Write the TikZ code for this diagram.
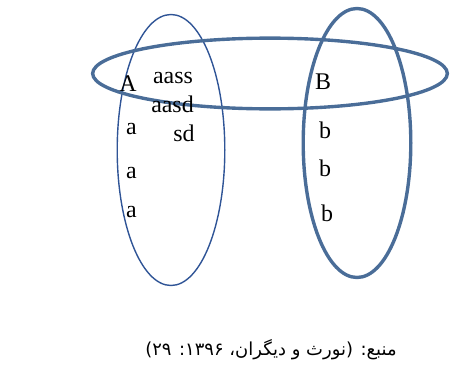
\documentclass[tikz,border=0pt]{standalone}
\usepackage{fontspec}
\setmainfont{Liberation Serif}
\newfontfamily\farsifont[Script=Arabic]{DejaVu Sans}
\TeXXeTstate=1
\usetikzlibrary{shapes.geometric}
\definecolor{setthin}{HTML}{2F5496}
\definecolor{setthick}{HTML}{4A6D98}
\tikzset{
  setring/.style   = {ellipse, draw, inner sep=0pt, outer sep=0pt},
  thinring/.style  = {setring, draw=setthin, line width=1.4pt},
  thickring/.style = {setring, draw=setthick, line width=3.4pt},
  elem/.style      = {font=\fontsize{24}{24}\selectfont, inner sep=0pt},
  src/.style       = {font=\farsifont\fontsize{18}{20}\selectfont, inner sep=0pt},
}

\begin{document}
\begin{tikzpicture}[x=1bp,y=1bp]
\useasboundingbox (0,0) rectangle (474,365);

% -- the three sets -----------------------------------------------------------
\node[thinring,  minimum width=108, minimum height=272] (setA)  at (171,215) {};
\node[thickring, minimum width=108, minimum height=270] (setB)  at (357,222) {};
\node[thickring, minimum width=356, minimum height=71]  (setAB) at (270,291.5) {};

% -- elements of A --------------------------------------------------------------
\node[elem] (bigA)  at (128,281.5) {A};
\node[elem] (aass)  at (173,287) {aass};
\node[elem] (aasd)  at (172.5,261) {aasd};
\node[elem] (sd)    at (184,231.5) {sd};
\node[elem] (a1)    at (131.5,236) {a};
\node[elem] (a2)    at (131.5,192) {a};
\node[elem] (a3)    at (131.5,153) {a};

% -- elements of B --------------------------------------------------------------
\node[elem] (bigB)  at (323,283) {B};
\node[elem] (b1)    at (325,235) {b};
\node[elem] (b2)    at (325,197) {b};
\node[elem] (b3)    at (327,152) {b};

% -- source line ----------------------------------------------------------------
\node[src] (source) at (271,15) {\beginR منبع: (نورث و دیگران، ۱۳۹۶: ۲۹)\endR};

\end{tikzpicture}
\end{document}
